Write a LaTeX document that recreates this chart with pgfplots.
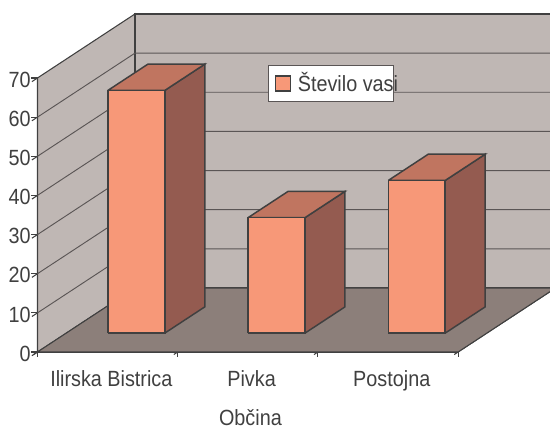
\documentclass[border=0pt]{standalone}
\usepackage{fontspec}
\setmainfont[FakeStretch=0.9]{Liberation Sans}
\usepackage{pgfplots}
\pgfplotsset{compat=1.18}
\definecolor{wall}{HTML}{BFB7B4}
\definecolor{floorc}{HTML}{8C7F7A}
\definecolor{front}{HTML}{F79878}
\definecolor{topc}{HTML}{C07560}
\definecolor{side}{HTML}{945B50}
\definecolor{ink}{HTML}{404040}
\definecolor{gridc}{HTML}{5A5555}

% one 3D bar: left x, right x, value
\newcommand{\barfaces}[3]{
  \addplot3[forget plot,draw=ink,line width=1.1pt,fill=side] coordinates
    {(#2,0.295,0) (#2,0.705,0) (#2,0.705,#3) (#2,0.295,#3) (#2,0.295,0)};
  \addplot3[forget plot,draw=ink,line width=1.1pt,fill=topc] coordinates
    {(#1,0.295,#3) (#2,0.295,#3) (#2,0.705,#3) (#1,0.705,#3) (#1,0.295,#3)};
  \addplot3[forget plot,draw=ink,line width=1.1pt,fill=front] coordinates
    {(#1,0.295,0) (#2,0.295,0) (#2,0.295,#3) (#1,0.295,#3) (#1,0.295,0)};
}
% grid line across left and back wall
\newcommand{\gridz}[1]{
  \addplot3[forget plot,draw=gridc,line width=0.7pt] coordinates {(0,0,#1) (0,1,#1) (3,1,#1)};
}

\begin{document}
\begin{tikzpicture}
\fontsize{16.5}{18}\selectfont
\begin{axis}[
    x={(105.15pt,0pt)}, y={(73.1pt,48pt)}, z={(0pt,2.936pt)},
    xmin=0, xmax=3, ymin=0, ymax=1, zmin=0, zmax=70,
    clip=false,
    axis lines*=left,
    axis line style={draw=ink,line width=0.8pt,-},
    xtick={0.5,1.5,2.5},
    xticklabels={Ilirska Bistrica,Pivka,Postojna},
    minor xtick={0,1,2,3},
    ytick=\empty,
    ztick={0,10,...,70},
    tick style={draw=ink,line width=0.8pt},
    major tick length=5pt,
    minor tick length=3.5pt,
    xtick style={draw=none},
    minor x tick style={draw=ink,line width=0.8pt},
    tick align=outside,
    /pgf/number format/assume math mode=true,
    ticklabel style={text=ink,font=\fontsize{16.5}{18}\selectfont},
    xticklabel style={anchor=north,yshift=-5.8pt,xshift=7pt},
    zticklabel style={anchor=east,xshift=4.75pt,yshift=1.5pt},
    xlabel={Občina},
    xlabel style={anchor=north,inner sep=0pt,text=ink,font=\fontsize{16.5}{18}\selectfont,yshift=2.4pt,xshift=26.5pt},
    legend style={at={(axis cs:1.644,0,73.3)},anchor=north west,draw=gridc,fill=white,
      line width=0.8pt,inner xsep=2pt,inner ysep=3pt,
      font=\fontsize{16.5}{18}\selectfont,text=ink},
    legend image code/.code={\path[draw=none,fill=none] (0pt,-5.6pt) rectangle (11.25pt,5.6pt);
      \draw[#1,overlay] (3pt,-5.6pt) rectangle (14.25pt,5.6pt);},
]
\coordinate (o) at (axis cs:0,0,0);
% walls and floor
\addplot3[forget plot,draw=ink,line width=0.8pt,fill=wall] coordinates {(0,0,0) (0,1,0) (0,1,70) (0,0,70) (0,0,0)};
\addplot3[forget plot,draw=ink,line width=0.8pt,fill=wall] coordinates {(0,1,0) (3,1,0) (3,1,70) (0,1,70) (0,1,0)};
\gridz{10}\gridz{20}\gridz{30}\gridz{40}\gridz{50}\gridz{60}
\addplot3[forget plot,draw=ink,line width=0.8pt,fill=floorc] coordinates {(0,0,0) (3,0,0) (3,1,0) (0,1,0) (0,0,0)};
% values
\barfaces{0.297}{0.703}{62}
\barfaces{1.297}{1.703}{29.5}
\barfaces{2.297}{2.703}{39}
\addlegendimage{draw=ink,line width=0.9pt,fill=front}
\addlegendentry{\makebox[74.5pt][l]{\hspace*{6.75pt}Število vasi}}
\end{axis}
\pgfresetboundingbox
\useasboundingbox ([shift={(-28.125pt,-56.25pt)}]o) rectangle ([shift={(384.375pt,264pt)}]o);
\end{tikzpicture}
\end{document}
